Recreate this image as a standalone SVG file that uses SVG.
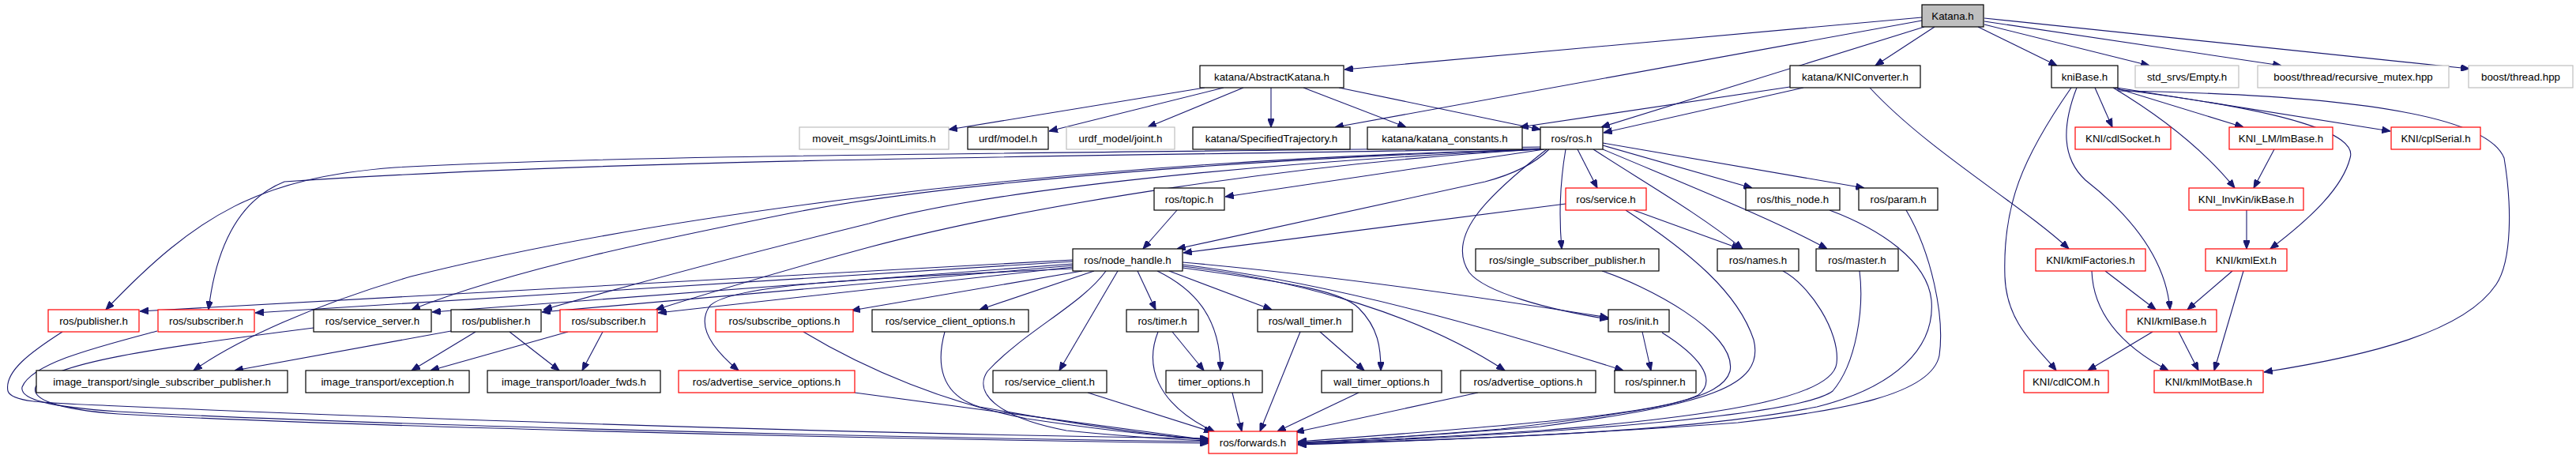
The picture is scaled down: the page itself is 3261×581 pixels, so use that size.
<svg xmlns="http://www.w3.org/2000/svg" width="3261" height="581" viewBox="0 0 3261 581">
<style>
rect{fill:#ffffff;stroke:#000000;stroke-width:1.2}
.g rect{stroke:#bfbfbf}
.r rect{stroke:#ff0000}
.k rect{fill:#bfbfbf}
text{font-family:"Liberation Sans",Arial,sans-serif;font-size:13.33px;text-anchor:middle;fill:#000}
#edges path{fill:none;stroke:#191970;stroke-width:1.1;marker-end:url(#a)}
</style>
<defs>
<marker id="a" viewBox="0 0 10 8" refX="10" refY="4" markerWidth="11" markerHeight="8.5" markerUnits="userSpaceOnUse" orient="auto">
<path d="M0,0 L10,4 L0,8 z" fill="#191970" stroke="#191970" stroke-width="1"/>
</marker>
</defs>
<rect x="0" y="0" width="3261" height="581" style="fill:#fff;stroke:none"/>
<g id="edges">
<!-- Katana.h -->
<path d="M2433,22 L1702,88"/>
<path d="M2433,26 L1690,161"/>
<path d="M2436,34 L2027,161"/>
<path d="M2449,34 L2374,83"/>
<path d="M2504,34 L2604,83"/>
<path d="M2512,31 L2721,83"/>
<path d="M2512,27 L2888,83"/>
<path d="M2512,23 L3126,87"/>
<!-- AbstractKatana -->
<path d="M1525,111 L1201,164"/>
<path d="M1549,111 L1328,166"/>
<path d="M1574,111 L1453,161"/>
<path d="M1609,111 L1609,161"/>
<path d="M1650,111 L1780,161"/>
<path d="M1695,111 L1950,164"/>
<!-- KNIConverter -->
<path d="M2266,110 L1924,161"/>
<path d="M2283,111 L2030,168"/>
<path d="M2367,111 C2440,190 2560,260 2619,315"/>
<!-- kniBase -->
<path d="M2622,111 C2560,200 2535,260 2538,350 C2540,410 2580,440 2603,469"/>
<path d="M2629,111 C2610,160 2610,200 2640,228 C2700,275 2742,330 2747,392"/>
<path d="M2652,111 L2674,161"/>
<path d="M2675,111 C2740,150 2790,190 2829,238"/>
<path d="M2677,111 L2840,161"/>
<path d="M2680,111 L3026,166"/>
<path d="M2680,113 C2900,140 2985,170 2975,200 C2965,240 2920,280 2874,315"/>
<path d="M2681,115 C3000,120 3150,150 3170,200 C3180,260 3180,330 3160,360 C3120,420 3000,450 2866,471"/>
<path d="M2879,189 L2853,238"/>
<path d="M2844,266 L2844,315"/>
<path d="M2665,343 L2729,392"/>
<path d="M2648,343 C2650,400 2690,440 2745,469"/>
<path d="M2826,343 L2769,392"/>
<path d="M2840,343 L2803,469"/>
<path d="M2725,420 L2643,469"/>
<path d="M2758,420 L2783,469"/>
<!-- ros.h -->
<path d="M1950,186 C1400,194 800,195 500,212 C330,225 250,270 134,392"/>
<path d="M1950,188 C1400,198 800,200 360,230 C310,250 275,300 264,392"/>
<path d="M1950,189 C1300,205 800,280 520,350 C400,385 300,430 245,469"/>
<path d="M1950,189 C1600,200 1200,230 1000,270 C850,300 650,340 521,392"/>
<path d="M1950,189 C1600,205 1250,240 1100,283 C950,320 800,360 688,392"/>
<path d="M1950,189 C1650,205 1300,260 1100,313 C1000,340 900,370 830,392"/>
<path d="M1955,189 L1551,249"/>
<path d="M1961,189 C1940,210 1910,222 1880,230 L1490,315"/>
<path d="M1997,189 L2022,238"/>
<path d="M1982,189 C1975,230 1973,270 1977,315"/>
<path d="M2017,189 C2080,230 2150,270 2206,315"/>
<path d="M2029,189 C2150,240 2250,280 2313,315"/>
<path d="M2029,184 L2218,238"/>
<path d="M2029,181 L2360,238"/>
<path d="M1958,189 C1880,250 1830,300 1860,345 C1880,370 1960,392 2036,404"/>
<!-- service.h / topic.h -->
<path d="M1982,258 L1498,320"/>
<path d="M2068,266 L2203,315"/>
<path d="M2058,266 C2140,320 2200,370 2220,430 C2235,490 2160,512 1950,540 C1800,552 1700,558 1643,560"/>
<path d="M1490,266 L1447,315"/>
<!-- rank 4 to forwards -->
<path d="M2028,343 C2080,360 2200,420 2190,470 C2180,505 2100,520 1900,543 C1780,553 1700,558 1643,560"/>
<path d="M2257,343 C2290,360 2330,420 2325,460 C2320,500 2200,525 1950,545 C1800,555 1700,559 1643,561"/>
<path d="M2354,343 C2360,390 2350,460 2320,495 C2280,525 2000,548 1643,562"/>
<path d="M2316,266 C2380,290 2440,330 2445,380 C2450,440 2400,490 2300,515 C2150,545 1900,555 1643,562"/>
<path d="M2413,266 C2445,320 2462,400 2455,450 C2445,500 2330,520 2200,535 C2000,550 1800,558 1643,563"/>
<!-- node_handle -->
<path d="M1358,329 L177,394"/>
<path d="M1358,331 L323,396"/>
<path d="M1358,334 L547,395"/>
<path d="M1358,336 L686,395"/>
<path d="M1358,338 L833,396"/>
<path d="M1370,343 L1078,393"/>
<path d="M1385,343 L1240,392"/>
<path d="M1358,340 C1100,352 920,360 898,388 C882,412 900,440 935,469"/>
<path d="M1415,343 L1341,469"/>
<path d="M1400,343 C1370,385 1296,420 1250,470 C1230,500 1270,530 1350,545 C1450,555 1500,557 1530,558"/>
<path d="M1440,343 L1463,392"/>
<path d="M1465,343 C1510,365 1545,400 1545,469"/>
<path d="M1480,343 L1610,392"/>
<path d="M1497,339 C1650,360 1700,370 1720,390 C1745,415 1748,440 1748,469"/>
<path d="M1497,337 C1650,355 1800,400 1905,469"/>
<path d="M1497,335 C1700,360 1900,420 2055,469"/>
<path d="M1497,332 C1700,350 1900,380 2036,402"/>
<!-- rank 5 -->
<path d="M79,420 C40,445 5,470 10,495 C15,510 60,510 150,514 C400,525 1000,548 1530,555"/>
<path d="M199,419 C120,440 40,460 28,490 C25,505 60,515 150,521 C400,535 1000,552 1530,559"/>
<path d="M397,415 C200,440 60,460 45,490 C40,505 70,518 150,524 C400,538 1000,554 1530,561"/>
<path d="M571,419 L297,469"/>
<path d="M602,420 L521,469"/>
<path d="M645,420 L708,469"/>
<path d="M719,420 L545,469"/>
<path d="M763,420 L737,469"/>
<path d="M1017,420 C1100,470 1200,510 1300,530 C1400,545 1480,553 1530,556"/>
<path d="M1196,420 C1185,460 1190,500 1240,515 C1350,535 1450,550 1530,557"/>
<path d="M1082,497 L1530,557"/>
<path d="M1377,497 L1535,547"/>
<path d="M1466,420 C1450,460 1460,510 1538,547"/>
<path d="M1484,420 L1524,469"/>
<path d="M1560,497 L1572,546"/>
<path d="M1646,420 L1595,546"/>
<path d="M1671,420 L1727,469"/>
<path d="M1720,497 L1617,546"/>
<path d="M1871,497 L1640,547"/>
<path d="M2079,420 L2090,469"/>
<path d="M2104,421 C2150,450 2175,480 2150,500 C2100,525 1900,540 1643,559"/>
</g>
<g id="n_katana" class="k"><rect x="2433" y="6" width="78" height="28"/><text x="2472" y="25">Katana.h</text></g>
<g id="n_abstract"><rect x="1519" y="83" width="182" height="28"/><text x="1610" y="102">katana/AbstractKatana.h</text></g>
<g id="n_kniconv"><rect x="2266" y="83" width="165" height="28"/><text x="2348.5" y="102">katana/KNIConverter.h</text></g>
<g id="n_knibase"><rect x="2597" y="83" width="84" height="28"/><text x="2639" y="102">kniBase.h</text></g>
<g id="n_empty" class="g"><rect x="2703" y="83" width="131" height="28"/><text x="2768.5" y="102">std_srvs/Empty.h</text></g>
<g id="n_recmutex" class="g"><rect x="2858" y="83" width="242" height="28"/><text x="2979" y="102">boost/thread/recursive_mutex.hpp</text></g>
<g id="n_thread" class="g"><rect x="3125" y="83" width="132" height="28"/><text x="3191" y="102">boost/thread.hpp</text></g>
<g id="n_jointlimits" class="g"><rect x="1012" y="161" width="189" height="28"/><text x="1106.5" y="180">moveit_msgs/JointLimits.h</text></g>
<g id="n_urdfmodel"><rect x="1225" y="161" width="102" height="28"/><text x="1276" y="180">urdf/model.h</text></g>
<g id="n_urdfjoint" class="g"><rect x="1350" y="161" width="137" height="28"/><text x="1418.5" y="180">urdf_model/joint.h</text></g>
<g id="n_spectraj"><rect x="1510" y="161" width="199" height="28"/><text x="1609.5" y="180">katana/SpecifiedTrajectory.h</text></g>
<g id="n_constants"><rect x="1731" y="161" width="196" height="28"/><text x="1829" y="180">katana/katana_constants.h</text></g>
<g id="n_rosh"><rect x="1950" y="161" width="79" height="28"/><text x="1989.5" y="180">ros/ros.h</text></g>
<g id="n_cdlsocket" class="r"><rect x="2627" y="161" width="121" height="28"/><text x="2687.5" y="180">KNI/cdlSocket.h</text></g>
<g id="n_lmbase" class="r"><rect x="2822" y="161" width="131" height="28"/><text x="2887.5" y="180">KNI_LM/lmBase.h</text></g>
<g id="n_cplserial" class="r"><rect x="3027" y="161" width="113" height="28"/><text x="3083.5" y="180">KNI/cplSerial.h</text></g>
<g id="n_topic"><rect x="1461" y="238" width="89" height="28"/><text x="1505.5" y="257">ros/topic.h</text></g>
<g id="n_service" class="r"><rect x="1982" y="238" width="102" height="28"/><text x="2033" y="257">ros/service.h</text></g>
<g id="n_thisnode"><rect x="2210" y="238" width="119" height="28"/><text x="2269.5" y="257">ros/this_node.h</text></g>
<g id="n_param"><rect x="2353" y="238" width="100" height="28"/><text x="2403" y="257">ros/param.h</text></g>
<g id="n_ikbase" class="r"><rect x="2771" y="238" width="145" height="28"/><text x="2843.5" y="257">KNI_InvKin/ikBase.h</text></g>
<g id="n_nodehandle"><rect x="1358" y="315" width="139" height="28"/><text x="1427.5" y="334">ros/node_handle.h</text></g>
<g id="n_sspub"><rect x="1868" y="315" width="232" height="28"/><text x="1984" y="334">ros/single_subscriber_publisher.h</text></g>
<g id="n_names"><rect x="2174" y="315" width="103" height="28"/><text x="2225.5" y="334">ros/names.h</text></g>
<g id="n_master"><rect x="2299" y="315" width="104" height="28"/><text x="2351" y="334">ros/master.h</text></g>
<g id="n_kmlfact" class="r"><rect x="2577" y="315" width="139" height="28"/><text x="2646.5" y="334">KNI/kmlFactories.h</text></g>
<g id="n_kmlext" class="r"><rect x="2792" y="315" width="103" height="28"/><text x="2843.5" y="334">KNI/kmlExt.h</text></g>
<g id="n_pubr" class="r"><rect x="61" y="392" width="115" height="28"/><text x="118.5" y="411">ros/publisher.h</text></g>
<g id="n_subr" class="r"><rect x="200" y="392" width="122" height="28"/><text x="261" y="411">ros/subscriber.h</text></g>
<g id="n_srvserver"><rect x="397" y="392" width="149" height="28"/><text x="471.5" y="411">ros/service_server.h</text></g>
<g id="n_pub"><rect x="571" y="392" width="114" height="28"/><text x="628" y="411">ros/publisher.h</text></g>
<g id="n_subr2" class="r"><rect x="709" y="392" width="123" height="28"/><text x="770.5" y="411">ros/subscriber.h</text></g>
<g id="n_subopts" class="r"><rect x="906" y="392" width="174" height="28"/><text x="993" y="411">ros/subscribe_options.h</text></g>
<g id="n_srvclientopts"><rect x="1104" y="392" width="198" height="28"/><text x="1203" y="411">ros/service_client_options.h</text></g>
<g id="n_timer"><rect x="1426" y="392" width="91" height="28"/><text x="1471.5" y="411">ros/timer.h</text></g>
<g id="n_walltimer"><rect x="1592" y="392" width="120" height="28"/><text x="1652" y="411">ros/wall_timer.h</text></g>
<g id="n_init"><rect x="2036" y="392" width="77" height="28"/><text x="2074.5" y="411">ros/init.h</text></g>
<g id="n_kmlbase" class="r"><rect x="2692" y="392" width="114" height="28"/><text x="2749" y="411">KNI/kmlBase.h</text></g>
<g id="n_itssp"><rect x="46" y="469" width="318" height="28"/><text x="205" y="488">image_transport/single_subscriber_publisher.h</text></g>
<g id="n_itexc"><rect x="387" y="469" width="207" height="28"/><text x="490.5" y="488">image_transport/exception.h</text></g>
<g id="n_itloader"><rect x="617" y="469" width="219" height="28"/><text x="726.5" y="488">image_transport/loader_fwds.h</text></g>
<g id="n_advsrvopts" class="r"><rect x="859" y="469" width="223" height="28"/><text x="970.5" y="488">ros/advertise_service_options.h</text></g>
<g id="n_srvclient"><rect x="1257" y="469" width="144" height="28"/><text x="1329" y="488">ros/service_client.h</text></g>
<g id="n_timeropts"><rect x="1476" y="469" width="122" height="28"/><text x="1537" y="488">timer_options.h</text></g>
<g id="n_walltimeropts"><rect x="1673" y="469" width="152" height="28"/><text x="1749" y="488">wall_timer_options.h</text></g>
<g id="n_advopts"><rect x="1849" y="469" width="171" height="28"/><text x="1934.5" y="488">ros/advertise_options.h</text></g>
<g id="n_spinner"><rect x="2044" y="469" width="103" height="28"/><text x="2095.5" y="488">ros/spinner.h</text></g>
<g id="n_cdlcom" class="r"><rect x="2562" y="469" width="107" height="28"/><text x="2615.5" y="488">KNI/cdlCOM.h</text></g>
<g id="n_kmlmotbase" class="r"><rect x="2727" y="469" width="138" height="28"/><text x="2796" y="488">KNI/kmlMotBase.h</text></g>
<g id="n_forwards" class="r"><rect x="1530" y="546" width="112" height="28"/><text x="1586" y="565">ros/forwards.h</text></g>
</svg>
